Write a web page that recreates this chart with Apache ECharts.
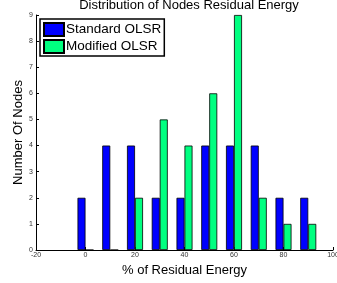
<!DOCTYPE html>
<html>
<head>
<meta charset="utf-8">
<script src="https://cdn.jsdelivr.net/npm/echarts@6/dist/echarts.min.js"></script>
<style>
  html, body { margin: 0; padding: 0; background: #fff; }
  #main { width: 337px; height: 283px; }
</style>
</head>
<body>
<div id="main"></div>
<script>
// bin centres (% residual energy)
var bins = [0, 10, 20, 30, 40, 50, 60, 70, 80, 90];
var standardOlsr = [2, 4, 4, 2, 2, 4, 4, 4, 2, 2];
var modifiedOlsr = [0, 0, 2, 5, 4, 6, 9, 2, 1, 1];

function pairs(vals){
	var out = [];
	for (var i = 0; i < bins.length; i++) {
		out.push([bins[i], vals[i]]);
	}
	return out;
}

var myChart = echarts.init(document.getElementById('main'));
var font = 'Liberation Sans, Arial, Helvetica, sans-serif';
var option = {
	animation: false,
	color: ['#0000ff', '#00ff80'],
	textStyle: { fontFamily: font },
	title: {
		text: 'Distribution of Nodes Residual Energy',
		left: 184,
		textAlign: 'center',
		top: -6,
		textStyle: { fontSize: 13, fontWeight: 'normal', color: '#000', fontFamily: font }
	},
	legend: {
		orient: 'vertical',
		left: 40,
		top: 19,
		padding: [3, 3, 2, 3],
		itemWidth: 20,
		itemHeight: 13,
		itemGap: 2,
		icon: 'rect',
		borderColor: '#000',
		borderWidth: 1.5,
		backgroundColor: '#fff',
		textStyle: { fontSize: 13.5, color: '#000', padding: [0, 0, 0, -3], fontFamily: font },
		data: ['Standard OLSR', 'Modified OLSR']
	},
	grid: { left: 36, right: 4, top: 15, bottom: 33, outerBoundsMode: 'none' },
	xAxis: {
		type: 'value',
		min: -20,
		max: 100,
		interval: 20,
		name: '% of Residual Energy',
		nameLocation: 'middle',
		nameGap: 13,
		nameTextStyle: { fontSize: 13, color: '#000', fontFamily: font },
		splitLine: { show: false },
		axisLine: { onZero: false, lineStyle: { color: '#000', width: 1 } },
		axisTick: { inside: true, length: 3, lineStyle: { color: '#000' } },
		axisLabel: { fontSize: 7, color: '#333', margin: 2 }
	},
	yAxis: {
		type: 'value',
		min: 0,
		max: 9,
		interval: 1,
		name: 'Number Of Nodes',
		nameLocation: 'middle',
		nameGap: 11,
		nameMoveOverlap: false,
		nameTextStyle: { fontSize: 13, color: '#000', fontFamily: font },
		splitLine: { show: false },
		axisLine: { show: true, onZero: false, lineStyle: { color: '#000', width: 1 } },
		axisTick: { show: true, inside: true, length: 3, lineStyle: { color: '#000' } },
		axisLabel: { fontSize: 7, color: '#333', margin: 3 }
	},
	series: [{
		name: 'Standard OLSR',
		type: 'bar',
		barWidth: 8,
		barGap: '0%',
		itemStyle: { borderColor: '#000', borderWidth: 0.8 },
		data: pairs(standardOlsr)
	},
	{
		name: 'Modified OLSR',
		type: 'bar',
		barWidth: 8,
		barGap: '0%',
		itemStyle: { borderColor: '#000', borderWidth: 0.8 },
		data: pairs(modifiedOlsr)
	}]
};
myChart.setOption(option);
</script>
</body>
</html>
